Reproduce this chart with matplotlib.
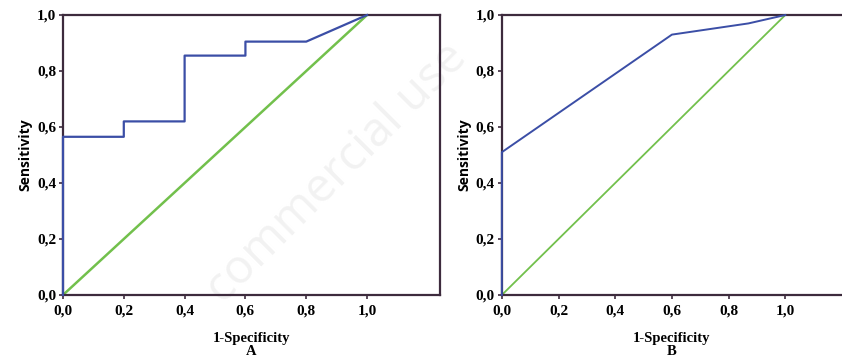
import matplotlib
matplotlib.use("Agg")
import matplotlib.pyplot as plt

# ROC panel A (step curve)
fpr_a = [0.0, 0.0, 0.2, 0.2, 0.4, 0.4, 0.6, 0.6, 0.8, 1.0]
tpr_a = [0.0, 0.565, 0.565, 0.62, 0.62, 0.855, 0.855, 0.905, 0.905, 1.0]

# ROC panel B
fpr_b = [0.0, 0.0, 0.6, 0.87, 1.0]
tpr_b = [0.0, 0.51, 0.93, 0.97, 1.0]

ref_line = [0.0, 1.0]
ticks = [0.0, 0.2, 0.4, 0.6, 0.8, 1.0]
tick_labels = ["0,0", "0,2", "0,4", "0,6", "0,8", "1,0"]

blue = "#3b4ea6"
green = "#72c04c"
frame = "#3d2b3d"

fig = plt.figure(figsize=(8.42, 3.6), dpi=100)

# faint watermark behind the panels
fig.text(0.40, 0.52, "commercial use", fontsize=34, color="#f2f2f2", rotation=45,
         ha="center", va="center", zorder=-5, family="Open Sans")

ax_a = fig.add_axes([0.0748, 0.1806, 0.4478, 0.7777])
ax_b = fig.add_axes([0.596, 0.1806, 0.404, 0.7777])

def style(ax, xmax, letter, right_spine):
    ax.set_facecolor("none")
    ax.set_xlim(0, xmax)
    ax.set_ylim(0, 1.0)
    ax.set_xticks(ticks)
    ax.set_xticklabels(tick_labels, family="Liberation Serif", fontweight="bold", fontsize=11)
    ax.set_yticks(ticks)
    ax.set_yticklabels(tick_labels, family="Liberation Serif", fontweight="bold", fontsize=11)
    ax.tick_params(axis="both", length=3, width=1.2, color=frame, pad=2)
    ax.tick_params(axis="x", pad=4)
    for s in ["left", "bottom", "top", "right"]:
        ax.spines[s].set_color(frame)
        ax.spines[s].set_linewidth(1.6)
    ax.spines["right"].set_visible(right_spine)
    ax.set_ylabel("Sensitivity", family="Open Sans", fontweight="bold", fontsize=10, labelpad=3)
    ax.set_xlabel("1-Specificity\n" + letter, family="Liberation Serif", fontweight="bold",
                  fontsize=10.5, labelpad=10, linespacing=1.0)

# panel A
ax_a.plot(fpr_a, tpr_a, color=blue, lw=1.6, clip_on=False, zorder=3)
ax_a.plot(ref_line, ref_line, color=green, lw=1.8, zorder=2)
style(ax_a, 1.24, "A", True)

# panel B
ax_b.plot(fpr_b, tpr_b, color=blue, lw=1.4, clip_on=False, zorder=3)
ax_b.plot(ref_line, ref_line, color=green, lw=1.3, zorder=2)
style(ax_b, 1.2, "B", False)

fig.savefig("out.png", dpi=100)
